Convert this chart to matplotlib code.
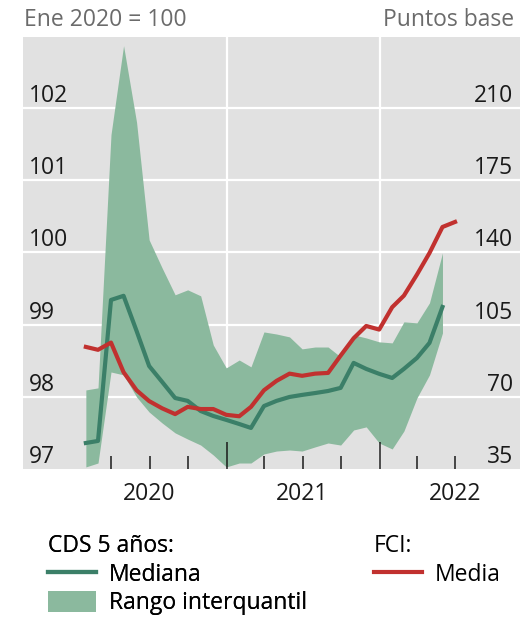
import pandas as pd
import matplotlib
matplotlib.use('Agg')
import matplotlib.pyplot as plt
from matplotlib.patches import Patch
from matplotlib.lines import Line2D

plt.rcParams['font.family'] = ['Open Sans', 'DejaVu Sans']

# fin de mes, ene 2020 - jun 2022
fechas = pd.date_range('2020-02-01', periods=30, freq='MS') - pd.Timedelta(days=1)

# CDS 5 años (puntos base), ene 2020 - may 2022
cds_mediana = [47.6, 48.6, 116.9, 118.9, 101.9, 84.9, 77.2, 69.4, 68.0, 63.1,
               60.7, 58.8, 56.8, 54.9, 65.5, 68.0, 69.9, 70.9, 71.8, 72.8,
               74.3, 86.4, 83.5, 81.1, 79.1, 83.5, 88.8, 96.1, 113.5]
cds_p25 = [36.0, 37.9, 82.0, 80.6, 69.9, 62.6, 57.3, 52.5, 49.5, 46.6,
           41.8, 36.0, 37.9, 37.9, 42.3, 43.7, 44.2, 43.7, 45.7, 47.6,
           46.6, 53.9, 55.4, 47.6, 44.7, 53.4, 69.4, 80.6, 100.9]
cds_p75 = [73.3, 74.3, 197.0, 240.1, 203.0, 146.0, 132.4, 119.4, 121.8, 118.9,
           95.1, 84.0, 87.8, 84.5, 101.4, 100.4, 99.0, 93.2, 94.1, 94.1,
           89.3, 100.0, 98.5, 96.6, 96.1, 106.3, 105.8, 115.5, 139.7]

# FCI, media (ene 2020 = 100), ene 2020 - jun 2022
fci_media = [98.69, 98.65, 98.75, 98.34, 98.09, 97.94, 97.84, 97.76, 97.86, 97.83,
             97.83, 97.75, 97.73, 97.86, 98.09, 98.22, 98.32, 98.29, 98.32, 98.33,
             98.57, 98.81, 98.98, 98.93, 99.24, 99.40, 99.69, 99.99, 100.35, 100.42]

izq_ticks = [97, 98, 99, 100, 101, 102]
der_ticks = [35, 70, 105, 140, 175, 210]
anios = ['2020', '2021', '2022']

c_fondo = '#e1e1e1'
c_banda = '#8bb99e'
c_mediana = '#3b7f68'
c_fci = '#c1312f'
fs = 16.5

fig = plt.figure(figsize=(5.2, 6.27), dpi=100)
rect = [23 / 520, 1 - 469 / 627, 497 / 520, 432 / 627]
ax_cds = fig.add_axes(rect)
ax_fci = fig.add_axes(rect)
ax_fci.patch.set_visible(False)

xlim = (pd.Timestamp('2019-09-03'), pd.Timestamp('2022-12-02'))
y_top = 102.98
for ax in (ax_cds, ax_fci):
    ax.set_xlim(xlim)
    for s in ax.spines.values():
        s.set_visible(False)

ax_fci.set_ylim(97, y_top)
ax_cds.set_ylim(35, 35 + (y_top - 97) * 35)

# capa de fondo: CDS en eje derecho
ax_cds.set_facecolor(c_fondo)
ax_cds.set_axisbelow(True)
ax_cds.fill_between(fechas[:len(cds_p25)], cds_p25, cds_p75, color=c_banda, lw=0)
ax_cds.plot(fechas[:len(cds_mediana)], cds_mediana, color=c_mediana, lw=3.0,
            solid_joinstyle='round')
ax_cds.set_xticks([pd.Timestamp('2021-01-01'), pd.Timestamp('2022-01-01')])
ax_cds.set_yticks(der_ticks, labels=[str(v) for v in der_ticks])
ax_cds.grid(True, color='white', lw=1.6)
ax_cds.get_ygridlines()[0].set_visible(False)
ax_cds.yaxis.tick_right()
ax_cds.tick_params(axis='x', length=0, labelbottom=False)
ax_cds.tick_params(axis='y', length=0, pad=-5, labelsize=fs, labelcolor='#1a1a1a')
for lbl in ax_cds.get_yticklabels():
    lbl.set_ha('right')
    lbl.set_va('bottom')

# capa superior: FCI en eje izquierdo, marcas del eje x
ax_fci.plot(fechas, fci_media, color=c_fci, lw=3.0, solid_joinstyle='round')
ax_fci.set_yticks(izq_ticks, labels=[str(v) for v in izq_ticks])
ax_fci.tick_params(axis='y', length=0, pad=-4, labelsize=fs, labelcolor='#1a1a1a')
for lbl in ax_fci.get_yticklabels():
    lbl.set_ha('left')
    lbl.set_va('bottom')

ax_fci.set_xticks([pd.Timestamp('2021-01-01'), pd.Timestamp('2022-01-01')], labels=['', ''])
trimestres = pd.to_datetime(['2020-04-01', '2020-07-01', '2020-10-01', '2021-04-01',
                             '2021-07-01', '2021-10-01', '2022-04-01', '2022-07-01'])
ax_fci.set_xticks(trimestres, minor=True,
                  labels=['', anios[0], '', '', anios[1], '', '', anios[2]])
ax_fci.tick_params(axis='x', which='major', direction='in', length=19.5, width=1.1,
                   color='#1a1a1a')
ax_fci.tick_params(axis='x', which='minor', direction='in', length=9.5, width=1.1,
                   color='#1a1a1a', labelsize=fs, labelcolor='#1a1a1a', pad=9)

fig.text(24 / 520, 1 - 20 / 627, 'Ene 2020 = 100', va='center', ha='left',
         fontsize=fs, color='#6b6b6b')
fig.text(514 / 520, 1 - 20 / 627, 'Puntos base', va='center', ha='right',
         fontsize=fs, color='#6b6b6b')

h_cds = [Line2D([], [], color=c_mediana, lw=3.0),
         Patch(facecolor=c_banda, edgecolor='none')]
leg1 = fig.legend(h_cds, ['Mediana', 'Rango interquantil'], title='CDS 5 años:',
                  loc='upper left', bbox_to_anchor=(48 / 520, 1 - 534 / 627),
                  frameon=False, alignment='left', fontsize=fs, title_fontsize=fs,
                  handlelength=2.1, handleheight=1.0, handletextpad=0.55,
                  labelspacing=0.2, borderpad=0, borderaxespad=0)
fig.legend([Line2D([], [], color=c_fci, lw=3.0)], ['Media'], title='FCI:',
           loc='upper left', bbox_to_anchor=(374 / 520, 1 - 534 / 627),
           frameon=False, alignment='left', fontsize=fs, title_fontsize=fs,
           handlelength=2.1, handleheight=1.0, handletextpad=0.55,
           labelspacing=0.2, borderpad=0, borderaxespad=0)
fig.add_artist(leg1)

fig.savefig('out.png', dpi=100)
